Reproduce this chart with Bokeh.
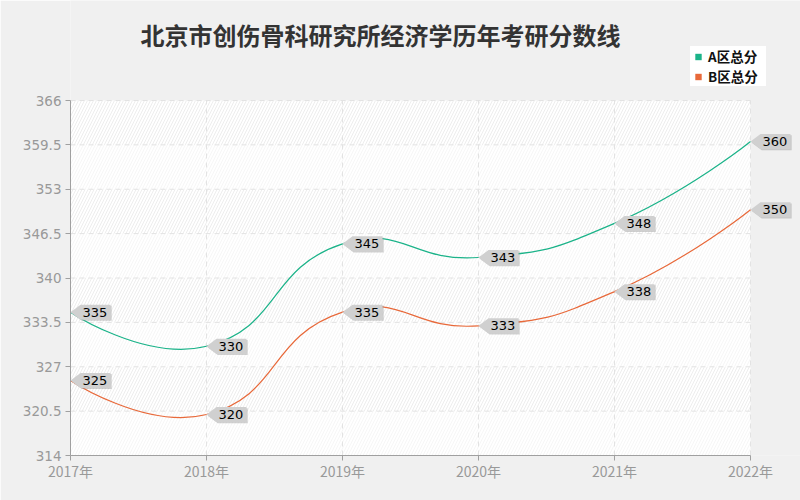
import math
from bokeh.plotting import figure
from bokeh.models import (Range1d, FixedTicker, Legend, LegendItem, BoxAnnotation,
                          Label, ColumnDataSource)
from bokeh.core.properties import value
from bokeh.embed import file_html
from bokeh.resources import INLINE

# ---- data ----
title_text = "北京市创伤骨科研究所经济学历年考研分数线"
years = [2017, 2018, 2019, 2020, 2021, 2022]
year_labels = ["2017年", "2018年", "2019年", "2020年", "2021年", "2022年"]
series_names = ["A区总分", "B区总分"]
a_scores = [335, 330, 345, 343, 348, 360]
b_scores = [325, 320, 335, 333, 338, 350]
y_ticks = [314, 320.5, 327, 333.5, 340, 346.5, 353, 359.5, 366]
y_tick_labels = ["314", "320.5", "327", "333.5", "340", "346.5", "353", "359.5", "366"]

# ---- layout / style ----
W, H = 800, 500
FL = 70                      # left of the data area
DATA_TOP = 100               # pixel row of the top tick
DATA_BOTTOM = 455            # pixel row of the bottom tick
PLOT_W = 680                 # width of the data area (2017..2022)
FH = DATA_BOTTOM             # frame spans from the canvas top to the x axis
px_x = PLOT_W / (years[-1] - years[0])
px_y = (DATA_BOTTOM - DATA_TOP) / (y_ticks[-1] - y_ticks[0])
x_end = years[0] + (W - FL) / px_x
y_end = y_ticks[0] + FH / px_y

COL_A = "#1bb389"
COL_B = "#e8693a"
FONT_CJK = "Noto Sans CJK SC"

p = figure(width=W, height=H, output_backend="svg", toolbar_location=None,
           x_range=Range1d(years[0], x_end), y_range=Range1d(y_ticks[0], y_end),
           min_border_left=FL, min_border_right=0, min_border_top=0,
           min_border_bottom=H - DATA_BOTTOM)
p.border_fill_color = "#f0f0f0"
p.background_fill_color = "#f0f0f0"
p.outline_line_color = None
p.xgrid.visible = False
p.ygrid.visible = False

# title
p.add_layout(Label(x=70, y=FH - 34, x_units="screen", y_units="screen", text=title_text,
                   text_font=FONT_CJK, text_font_size="24px", text_font_style="bold",
                   text_color="#333333", text_baseline="middle", text_align="left"))

# white plot area + alternate hatched bands
p.add_layout(BoxAnnotation(left=years[0], right=years[-1], bottom=y_ticks[0], top=y_ticks[-1],
                           fill_color="white", fill_alpha=1, line_color=None, level="image"))
for i in range(len(y_ticks) - 1):
    dense = (i % 2 == 1)
    p.add_layout(BoxAnnotation(left=years[0], right=years[-1], bottom=y_ticks[i], top=y_ticks[i + 1],
                               fill_alpha=0, line_color=None, level="image",
                               hatch_pattern="/", hatch_scale=6, hatch_weight=0.8,
                               hatch_color="#e9e9e9" if dense else "#f4f4f4"))

# dashed grid lines
p.segment(x0=[years[0]] * len(y_ticks[1:]), x1=[years[-1]] * len(y_ticks[1:]),
          y0=y_ticks[1:], y1=y_ticks[1:], line_color="#e3e3e3", line_dash="5 4", line_width=1,
          level="underlay")
p.segment(x0=years[1:], x1=years[1:], y0=[y_ticks[0]] * len(years[1:]),
          y1=[y_ticks[-1]] * len(years[1:]), line_color="#e3e3e3", line_dash="5 4", line_width=1,
          level="underlay")

# axes
for ax in (p.xaxis, p.yaxis):
    ax.axis_line_color = "#a0a0a0"
    ax.major_tick_line_color = "#a0a0a0"
    ax.major_tick_out = 5
    ax.major_tick_in = 0
    ax.minor_tick_line_color = None
    ax.major_label_text_color = "#999999"
p.xaxis.ticker = FixedTicker(ticks=years)
p.xaxis.major_label_overrides = dict(zip(years, year_labels))
p.xaxis.major_label_text_font = FONT_CJK
p.xaxis.major_label_text_font_size = "14px"
p.xaxis.bounds = (years[0], years[-1])
p.xaxis.major_label_standoff = 0
p.yaxis.ticker = FixedTicker(ticks=y_ticks)
p.yaxis.major_label_overrides = dict(zip(y_ticks, y_tick_labels))
p.yaxis.major_label_text_font = "DejaVu Sans"
p.yaxis.major_label_text_font_size = "13.5px"
p.yaxis.bounds = (y_ticks[0], y_ticks[-1])
p.yaxis.major_label_standoff = 4


def smooth_segments(xs, ys, smooth=0.5):
    """ECharts-like smoothing, computed in pixel space."""
    pts = [(x * px_x, -y * px_y) for x, y in zip(xs, ys)]
    n = len(pts)
    cin, cout = [None] * n, [None] * n
    for i in range(n):
        px, py = pts[i]
        if i == 0 or i == n - 1:
            cin[i] = cout[i] = (px, py)
            continue
        (ax, ay), (bx, by) = pts[i - 1], pts[i + 1]
        vx, vy = (bx - ax) * smooth, (by - ay) * smooth
        d0 = math.hypot(px - ax, py - ay)
        d1 = math.hypot(bx - px, by - py)
        s = d0 + d1
        d0, d1 = d0 / s, d1 / s
        cin[i] = (px - vx * d0, py - vy * d0)
        cout[i] = (px + vx * d1, py + vy * d1)
    seg = dict(x0=[], y0=[], x1=[], y1=[], cx0=[], cy0=[], cx1=[], cy1=[])
    for i in range(n - 1):
        seg["x0"].append(xs[i]); seg["y0"].append(ys[i])
        seg["x1"].append(xs[i + 1]); seg["y1"].append(ys[i + 1])
        seg["cx0"].append(cout[i][0] / px_x); seg["cy0"].append(-cout[i][1] / px_y)
        seg["cx1"].append(cin[i + 1][0] / px_x); seg["cy1"].append(-cin[i + 1][1] / px_y)
    return seg


def tag_shapes(xs, ys, dx=0.0, dy=0.0):
    a, w, h = 10, 40, 7.5
    pxs, pys = [], []
    for x, y in zip(xs, ys):
        X = lambda d: x + (d + dx) / px_x
        Y = lambda d: y + (d - dy) / px_y
        pxs.append([X(0), X(a), X(w), X(w), X(a)])
        pys.append([Y(0), Y(h), Y(h), Y(-h), Y(-h)])
    return pxs, pys


legend_items = []
for name, scores, col in ((series_names[0], a_scores, COL_A), (series_names[1], b_scores, COL_B)):
    p.bezier(source=ColumnDataSource(smooth_segments(years, scores)),
             x0="x0", y0="y0", x1="x1", y1="y1", cx0="cx0", cy0="cy0", cx1="cx1", cy1="cy1",
             line_color=col, line_width=1.2)
    sx, sy = tag_shapes(years, scores, 1.2, 1.2)
    p.patches(xs=sx, ys=sy, fill_color="#9a9a9a", fill_alpha=0.45, line_color=None)
    tx, ty = tag_shapes(years, scores)
    p.patches(xs=tx, ys=ty, fill_color="#d0d0d0", line_color=None)
    p.text(x=years, y=scores, text=[str(v) for v in scores], x_offset=12,
           text_align="left", text_baseline="middle", text_font=value("DejaVu Sans"),
           text_font_size="13px", text_color="#000000")
    # marker only used for the legend swatch (size 0 in the plot)
    r = p.scatter(x=years, y=scores, marker="square", size=0, fill_color=col, line_color=None)
    legend_items.append(LegendItem(label=name, renderers=[r]))

legend = Legend(items=legend_items, location=(620, FH - 86), background_fill_color="white",
                border_line_color=None, padding=5, spacing=0, glyph_width=16, glyph_height=17,
                label_standoff=2, label_height=17, label_width=58, margin=0,
                label_text_font=FONT_CJK, label_text_font_size="13.5px",
                label_text_font_style="bold", label_text_color="#111111")
p.add_layout(legend)

open("out.html", "w").write(file_html(p, INLINE))
